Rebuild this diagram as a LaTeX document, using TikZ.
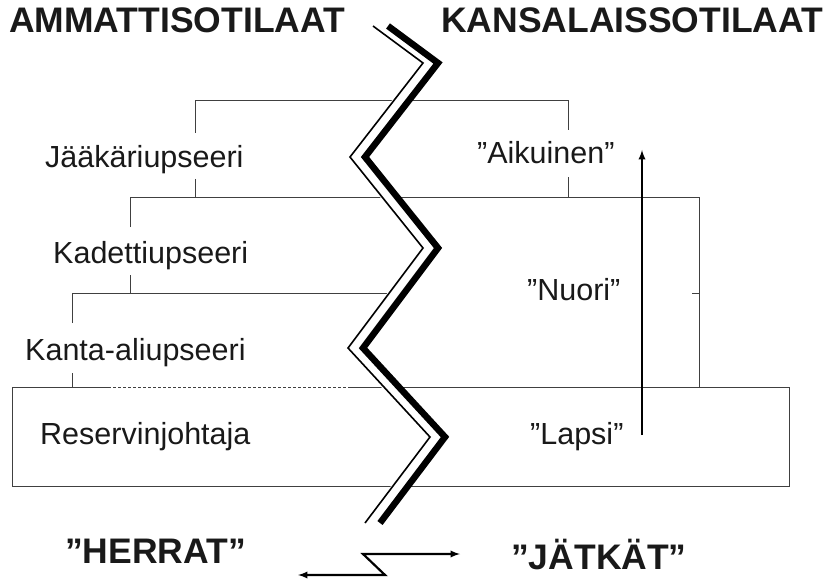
\documentclass[tikz,border=0pt]{standalone}
\usepackage{fontspec}
\setmainfont{Liberation Sans}
\pgfdeclarelayer{edgelayer}
\pgfdeclarelayer{nodelayer}
\pgfsetlayers{edgelayer,nodelayer,main}
\tikzstyle{none}=[inner sep=0pt]
\tikzstyle{heading}=[inner sep=0pt, anchor=base west, text=black!90, font=\fontsize{35.5bp}{40bp}\selectfont\bfseries]
\tikzstyle{rank}=[inner sep=0pt, anchor=base west, text=black!90, font=\fontsize{30.5bp}{36bp}\selectfont]
\tikzstyle{bracket}=[draw=black!75, line width=0.9bp]
\tikzstyle{gap}=[draw=white, line width=15bp, line join=round]
\tikzstyle{wall}=[draw=black, line width=6.5bp]
\tikzstyle{thinwall}=[draw=black, line width=1.6bp]
\tikzstyle{growth}=[draw=black, line width=2.2bp, -latex]

\begin{document}
\begin{tikzpicture}[x=1bp, y=-1bp]
	\useasboundingbox (0,0) rectangle (831,581);
	\begin{pgfonlayer}{nodelayer}
		\node [style=heading] (0) at (9, 33) {AMMATTISOTILAAT};
		\node [style=heading] (1) at (441, 33) {KANSALAISSOTILAAT};
		\node [style=rank] (2) at (45, 168) {Jääkäriupseeri};
		\node [style=rank] (3) at (53, 263) {Kadettiupseeri};
		\node [style=rank] (4) at (25, 360) {Kanta-aliupseeri};
		\node [style=rank] (5) at (40, 444) {Reservinjohtaja};
		\node [style=rank] (6) at (477, 164) {”Aikuinen”};
		\node [style=rank] (7) at (527, 300) {”Nuori”};
		\node [style=rank] (8) at (530, 444) {”Lapsi”};
		\node [style=heading] (9) at (65, 563) {”HERRAT”};
		\node [style=heading] (10) at (511, 569) {”JÄTKÄT”};
		\node [style=none] (11) at (195, 133) {};
		\node [style=none] (12) at (195, 100) {};
		\node [style=none] (13) at (568, 100) {};
		\node [style=none] (14) at (568, 130) {};
		\node [style=none] (15) at (195, 179) {};
		\node [style=none] (16) at (195, 197) {};
		\node [style=none] (17) at (568, 197) {};
		\node [style=none] (18) at (568, 177) {};
		\node [style=none] (19) at (130, 227) {};
		\node [style=none] (20) at (130, 197) {};
		\node [style=none] (21) at (699, 197) {};
		\node [style=none] (22) at (699, 387) {};
		\node [style=none] (23) at (130, 275) {};
		\node [style=none] (24) at (130, 293) {};
		\node [style=none] (25) at (692, 293) {};
		\node [style=none] (26) at (699, 293) {};
		\node [style=none] (27) at (72, 323) {};
		\node [style=none] (28) at (72, 293) {};
		\node [style=none] (29) at (392, 293) {};
		\node [style=none] (30) at (72, 373) {};
		\node [style=none] (31) at (72, 387) {};
		\node [style=none] (32) at (108, 387) {};
		\node [style=none] (33) at (12, 387) {};
		\node [style=none] (34) at (12, 486) {};
		\node [style=none] (35) at (789, 486) {};
		\node [style=none] (36) at (789, 387) {};
		\node [style=none] (37) at (348, 387) {};
		\node [style=none] (38) at (642, 435) {};
		\node [style=none] (39) at (642, 150) {};
		\node [style=none] (40) at (388, 26) {};
		\node [style=none] (41) at (438, 63) {};
		\node [style=none] (42) at (365, 157) {};
		\node [style=none] (43) at (438, 248) {};
		\node [style=none] (44) at (363, 348) {};
		\node [style=none] (45) at (445, 437) {};
		\node [style=none] (46) at (380, 523) {};
		\node [style=none] (47) at (298, 575) {};
		\node [style=none] (48) at (385, 575) {};
		\node [style=none] (49) at (363, 554) {};
		\node [style=none] (50) at (460, 554) {};
	\end{pgfonlayer}
	\begin{pgfonlayer}{edgelayer}
		\draw [style=bracket] (11.center) -- (12.center) -- (13.center) -- (14.center);
		\draw [style=bracket] (15.center) -- (16.center) -- (17.center) -- (18.center);
		\draw [style=bracket] (19.center) -- (20.center) -- (21.center) -- (22.center);
		\draw [style=bracket] (23.center) -- (24.center);
		\draw [style=bracket] (25.center) -- (26.center);
		\draw [style=bracket] (27.center) -- (28.center) -- (29.center);
		\draw [style=bracket] (30.center) -- (31.center);
		\draw [style=bracket] (32.center) -- (33.center) -- (34.center) -- (35.center) -- (36.center) -- (37.center);
		\draw [style=bracket, dash pattern=on 3bp off 2bp] (32.center) -- (37.center);
		\draw [style=growth] (38.center) -- (39.center);
	\end{pgfonlayer}
	\draw [style=gap] ([xshift=-7.5bp]40.center) -- ([xshift=-7.5bp]41.center) -- ([xshift=-7.5bp]42.center) -- ([xshift=-7.5bp]43.center) -- ([xshift=-7.5bp]44.center) -- ([xshift=-7.5bp]45.center) -- ([xshift=-7.5bp]46.center);
	\draw [style=thinwall] ([xshift=-15bp]40.center) -- ([xshift=-15bp]41.center) -- ([xshift=-15bp]42.center) -- ([xshift=-15bp]43.center) -- ([xshift=-15bp]44.center) -- ([xshift=-15bp]45.center) -- ([xshift=-15bp]46.center);
	\draw [style=wall] (40.center) -- (41.center) -- (42.center) -- (43.center) -- (44.center) -- (45.center) -- (46.center);
	\draw [draw=black, line width=2.2bp, latex-latex] (47.center) -- (48.center) -- (49.center) -- (50.center);
\end{tikzpicture}
\end{document}
